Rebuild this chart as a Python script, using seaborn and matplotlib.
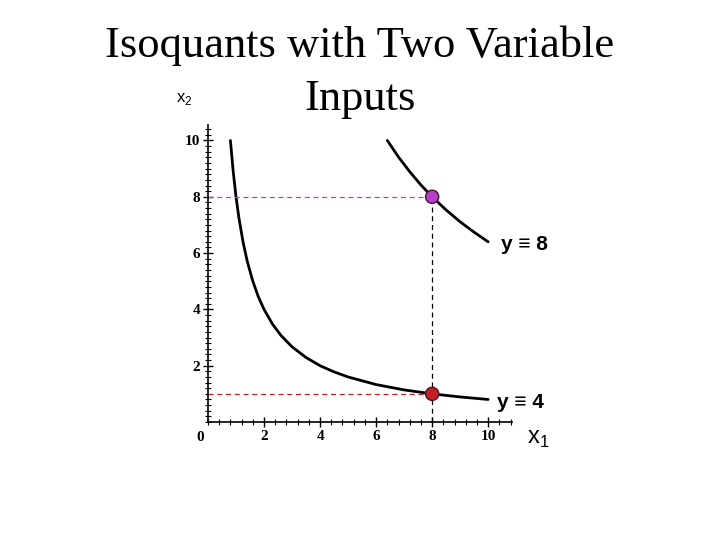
import matplotlib
matplotlib.use("Agg")
import matplotlib.pyplot as plt
from matplotlib.ticker import MultipleLocator
import seaborn as sns

# isoquant y = 4
low_x1 = [0.8, 0.9, 1.0, 1.1, 1.25, 1.4, 1.6, 1.8, 2.0, 2.3, 2.6, 3.0, 3.5, 4.0, 4.5, 5.0, 6.0, 7.0, 8.0, 9.0, 10.0]
low_x2 = [10.0, 8.89, 8.0, 7.27, 6.4, 5.71, 5.0, 4.44, 4.0, 3.48, 3.08, 2.67, 2.29, 2.0, 1.78, 1.6, 1.33, 1.14, 1.0, 0.89, 0.8]

# isoquant y = 8
high_x1 = [6.4, 6.8, 7.2, 7.6, 8.0, 8.5, 9.0, 9.5, 10.0]
high_x2 = [10.0, 9.41, 8.89, 8.42, 8.0, 7.53, 7.11, 6.74, 6.4]

# highlighted input bundles
pt_x1 = [8, 8]
pt_x2 = [8, 1]
pt_colors = ["#b040c8", "#c82020"]
curve_labels = ["y \u2261 8", "y \u2261 4"]

sns.set_style("white")
plt.rcParams["text.color"] = "black"

fig = plt.figure(figsize=(7.2, 5.4), dpi=100)
ax = fig.add_axes([208 / 720, 118 / 540, 304 / 720, 297 / 540])

sns.lineplot(x=low_x1, y=low_x2, sort=False, color="black", linewidth=2, ax=ax)
sns.lineplot(x=high_x1, y=high_x2, sort=False, color="black", linewidth=2, ax=ax)

# guide lines
ax.plot([0, pt_x1[0]], [pt_x2[0], pt_x2[0]], ls=(0, (4, 3)), color=pt_colors[0], lw=0.9)
ax.plot([0, pt_x1[1]], [pt_x2[1], pt_x2[1]], ls=(0, (4, 3)), color=pt_colors[1], lw=0.9)
ax.plot([pt_x1[0], pt_x1[0]], [0, pt_x2[0]], ls=(0, (4, 3)), color="black", lw=0.9)

sns.scatterplot(x=pt_x1, y=pt_x2, hue=curve_labels, palette=pt_colors, s=90,
                edgecolor="#501030", linewidth=1, legend=False, ax=ax, zorder=5)

ax.set_xlim(0, 10.85)
ax.set_ylim(0, 10.55)
for s in ["top", "right"]:
    ax.spines[s].set_visible(False)
ax.spines["left"].set_linewidth(1.2)
ax.spines["bottom"].set_linewidth(1.2)
ax.spines["left"].set_color("black")
ax.spines["bottom"].set_color("black")

ax.xaxis.set_minor_locator(MultipleLocator(0.4))
ax.yaxis.set_minor_locator(MultipleLocator(0.2))
ax.set_xticks([2, 4, 6, 8, 10])
ax.set_yticks([2, 4, 6, 8, 10])
ax.tick_params(which="both", direction="inout", bottom=True, left=True, color="black",
               labelcolor="black")
ax.tick_params(which="major", length=7, width=1, pad=2)
ax.tick_params(which="minor", length=5, width=0.8)
for lab in ax.get_xticklabels() + ax.get_yticklabels():
    lab.set_fontfamily("Liberation Serif")
    lab.set_fontweight("bold")
    lab.set_fontsize(11)
ax.text(-0.15, -0.55, "0", ha="right", va="center", fontsize=11,
        fontfamily="Liberation Serif", fontweight="bold")

ax.text(10.46, 6.3, curve_labels[0], ha="left", va="center", fontsize=15,
        fontfamily="Liberation Sans", fontweight="bold")
ax.text(10.32, 0.71, curve_labels[1], ha="left", va="center", fontsize=15,
        fontfamily="Liberation Sans", fontweight="bold")
ax.text(11.4, -0.6, r"x$_\mathregular{1}$", ha="left", va="center", fontsize=17,
        fontfamily="Liberation Sans", clip_on=False)
ax.text(-0.85, 11.46, r"x$_\mathregular{2}$", ha="center", va="center", fontsize=12,
        fontfamily="Liberation Sans", clip_on=False)

fig.text(0.5, 1 - 57 / 540, "Isoquants with Two Variable", ha="center", va="baseline",
         fontsize=32, fontfamily="Liberation Serif")
fig.text(0.5, 1 - 110 / 540, "Inputs", ha="center", va="baseline",
         fontsize=32, fontfamily="Liberation Serif")

fig.savefig("out.png", dpi=100)
